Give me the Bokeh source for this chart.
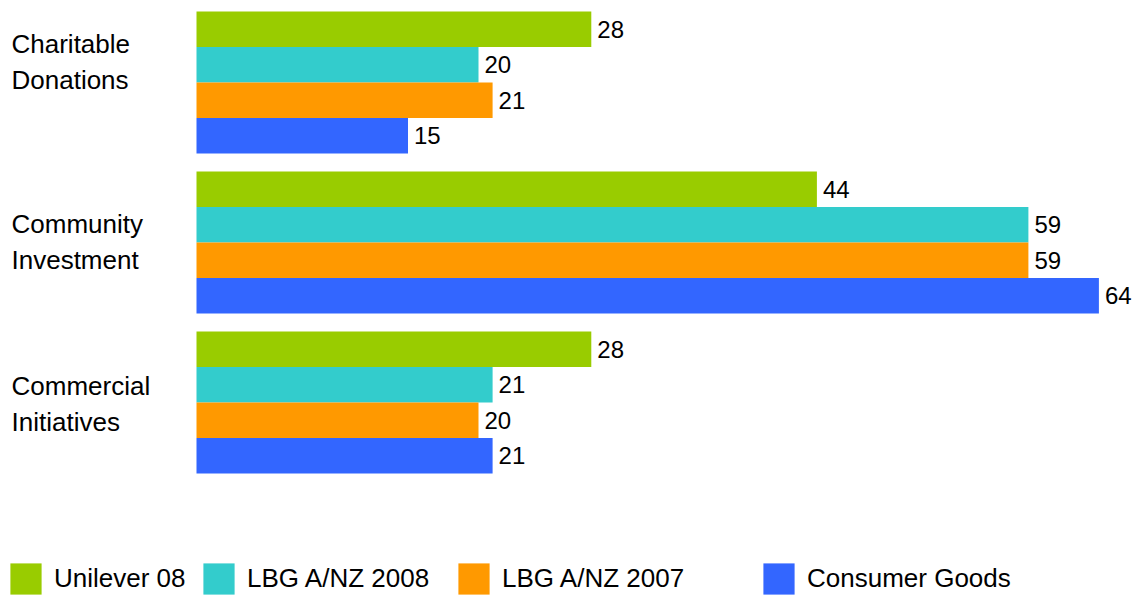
from bokeh.plotting import figure
from bokeh.models import Range1d, Legend, LegendItem, ColumnDataSource
from bokeh.core.properties import value
from bokeh.embed import file_html
from bokeh.resources import INLINE

# ---- data ----
categories = ["Charitable\nDonations", "Community\nInvestment", "Commercial\nInitiatives"]
series = ["Unilever 08", "LBG A/NZ 2008", "LBG A/NZ 2007", "Consumer Goods"]
colors = ["#99CC00", "#33CCCC", "#FF9900", "#3366FF"]
unilever_08 = [28, 44, 28]
lbg_2008 = [20, 59, 21]
lbg_2007 = [21, 59, 20]
consumer_goods = [15, 64, 21]
values = [unilever_08, lbg_2008, lbg_2007, consumer_goods]

# ---- layout (screen px) ----
W, H = 1139, 595
FONT = "Liberation Sans"
FS = "26px"
FS_VAL = "24px"
bar_left_px = 196          # where value 0 sits
px_per_unit = 14.1
top_px = 11                # top of first bar
bar_px = 35.5
gap_px = 18
label_nudge = [-21, -1, 1]
legend_x = [6, 199, 454, 759]
legend_glyph = 39          # bar legend glyph is drawn at 80% -> ~31px square

x0 = -bar_left_px / px_per_unit
x1 = (W - bar_left_px) / px_per_unit

p = figure(width=W, height=H, output_backend="svg", toolbar_location=None,
           x_range=Range1d(x0, x1), y_range=Range1d(H, 0),
           x_axis_type=None, y_axis_type=None, min_border=0,
           background_fill_color="white", border_fill_color="white")
p.outline_line_color = None
p.grid.visible = False

group_h = 4 * bar_px
renderers = []
for si, (name, col, vals) in enumerate(zip(series, colors, values)):
    ys = [top_px + gi * (group_h + gap_px) + si * bar_px + bar_px / 2 for gi in range(len(categories))]
    src = ColumnDataSource(dict(y=ys, v=vals, t=[str(v) for v in vals]))
    r = p.hbar(y="y", left=0, right="v", height=bar_px, source=src,
               fill_color=col, line_color=None)
    renderers.append(r)
    p.text(x="v", y="y", text="t", source=src, x_offset=6,
           text_align="left", text_baseline="middle",
           text_font=value(FONT), text_font_size=FS_VAL, text_color="#000000")

cy = [top_px + gi * (group_h + gap_px) + group_h / 2 + label_nudge[gi] for gi in range(len(categories))]
p.text(x=[0] * len(categories), y=cy, text=categories, x_offset=-(bar_left_px - 11),
       text_align="left", text_baseline="middle", text_line_height=1.2,
       text_font=value(FONT), text_font_size=FS, text_color="#000000")

for name, r, lx in zip(series, renderers, legend_x):
    lg = Legend(items=[LegendItem(label=name, renderers=[r])], location=(lx, -3),
                orientation="horizontal", glyph_width=legend_glyph, glyph_height=legend_glyph,
                label_height=legend_glyph, label_standoff=9, padding=0, margin=0,
                spacing=0, border_line_color=None, background_fill_alpha=0,
                label_text_font=FONT, label_text_font_size=FS,
                label_text_color="#000000")
    p.add_layout(lg)

open("out.html", "w").write(file_html(p, INLINE))
